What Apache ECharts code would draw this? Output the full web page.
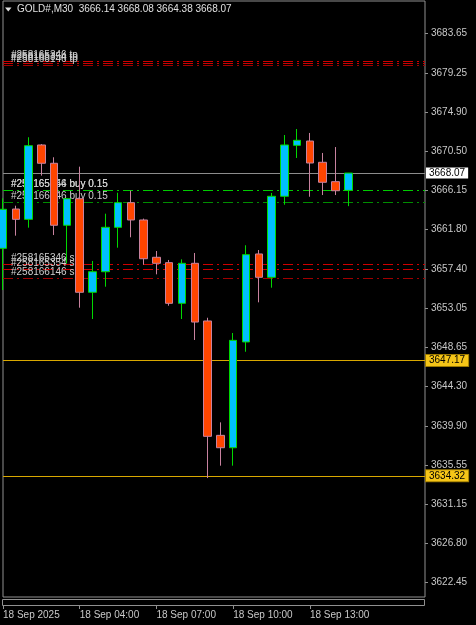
<!DOCTYPE html>
<html><head><meta charset="utf-8">
<script src="https://cdn.jsdelivr.net/npm/echarts@6/dist/echarts.min.js"></script>
<style>html,body{margin:0;padding:0;background:#000}#c{width:476px;height:625px}</style>
</head><body><div id="c"></div>
<script>
const symbolName = 'GOLD#,M30';
const dayPrefix = '18 Sep ';
const firstLabel = '18 Sep 2025';
const times = ['01:00','01:30','02:00','02:30','03:00','03:30','04:00','04:30','05:00','05:30',
  '06:00','06:30','07:00','07:30','08:00','08:30','09:00','09:30','10:00','10:30',
  '11:00','11:30','12:00','12:30','13:00','13:30','14:00','14:30'];
const futureSlots = ['15:00','15:30','16:00','16:30','17:00','17:30'];
const open  = [3659.68,3664.06,3662.91,3671.20,3669.16,3662.25,3665.21,3654.78,3657.07,3662.02,
  3664.77,3662.84,3658.68,3658.08,3653.55,3658.01,3651.58,3638.83,3637.45,3649.24,
  3659.05,3656.45,3665.48,3671.16,3671.64,3669.27,3667.11,3666.14];
const high  = [3665.26,3664.43,3672.06,3671.30,3669.83,3665.30,3668.78,3658.27,3663.54,3665.88,
  3666.10,3662.99,3659.38,3658.38,3658.45,3659.16,3651.94,3640.28,3650.24,3660.02,
  3659.49,3665.85,3672.31,3672.98,3672.54,3670.31,3670.97,3668.08];
const low   = [3655.03,3661.09,3661.98,3667.78,3661.16,3658.01,3653.06,3651.80,3655.40,3659.75,
  3660.91,3657.85,3656.78,3653.28,3651.80,3649.46,3634.07,3635.45,3635.45,3648.15,
  3653.66,3655.29,3664.54,3669.75,3665.43,3665.62,3665.62,3664.38];
const close = [3664.03,3662.91,3671.12,3669.16,3662.25,3665.21,3654.78,3657.07,3662.02,3664.77,
  3662.84,3658.52,3658.01,3653.55,3658.01,3651.46,3638.72,3637.45,3649.42,3658.97,
  3656.45,3665.48,3671.20,3671.72,3669.19,3667.04,3666.10,3668.07];
const priceTicks = [3683.65,3679.25,3674.90,3670.50,3666.15,3661.80,3657.40,3653.05,
  3648.65,3644.30,3639.90,3635.55,3631.15,3626.80,3622.45];
const timeTickLabels = ['04:00','07:00','10:00','13:00'];
const levelPrices = [3647.17, 3634.32];
const orderIds  = ['#258165346','#258165354','#258166146'];
const orderOpen = [3666.15, 3666.18, 3664.81];
const orderSL   = [3657.93, 3657.40, 3656.34];
const orderTP   = [3680.55, 3680.30, 3680.05];
const orderLots = [0.15, 0.15, 0.15];

const FONT = 'Liberation Sans';
const last = close.length - 1;
const candleData = times.map((t, i) => [open[i], close[i], low[i], high[i]]);
const isTick = (i) => i < times.length && (i === 0 || timeTickLabels.indexOf(times[i]) >= 0);

const dash = [10, 4, 2, 4];
function orderLine(price, text, color) {
  return {
    yAxis: price,
    lineStyle: { color: color, type: dash, width: 1 },
    label: { show: true, position: 'insideStartTop', distance: [8, 1], formatter: text,
      color: '#CFCFCF', fontSize: 10, fontFamily: FONT }
  };
}
function priceBox(price, lineColor, bg, border) {
  return {
    yAxis: price,
    lineStyle: { color: lineColor, type: 'solid', width: 1 },
    label: { show: true, position: 'end', distance: 1, formatter: price.toFixed(2),
      backgroundColor: bg, borderColor: border, borderWidth: border ? 1 : 0,
      color: '#000', padding: [1, 3, 0, 3], fontSize: 10, fontFamily: FONT, lineHeight: 10 }
  };
}
const markData = [];
orderIds.forEach((id, k) => {
  markData.push(orderLine(orderTP[k], id + ' tp', k === 2 ? '#A00000' : '#CC0000'));
  markData.push(orderLine(orderSL[k], id + ' sl', k === 2 ? '#A00000' : '#CC0000'));
  markData.push(orderLine(orderOpen[k], id + ' buy ' + orderLots[k].toFixed(2), k === 2 ? '#008C00' : '#00CC00'));
});
levelPrices.forEach(p => markData.push(priceBox(p, '#D9A800', '#F5C518', '#9C7A00')));
markData.push(priceBox(close[last], '#8C8C8C', '#FFFFFF', null));

const chart = echarts.init(document.getElementById('c'));
chart.setOption({
  animation: false,
  backgroundColor: '#000',
  title: {
    text: symbolName + '  ' + [open[last], high[last], low[last], close[last]].map(v => v.toFixed(2)).join(' '),
    left: 17, top: 4, padding: 0,
    textStyle: { color: '#E0E0E0', fontSize: 10, fontWeight: 'normal', fontFamily: FONT, lineHeight: 11 }
  },
  graphic: [
    { type: 'polygon', shape: { points: [[5, 7.5], [11.5, 7.5], [8.25, 11.5]] }, style: { fill: '#E0E0E0' } },
    { type: 'rect', shape: { x: 2.5, y: 599.5, width: 422, height: 6 }, style: { fill: 'none', stroke: '#909090', lineWidth: 1 } }
  ],
  grid: { left: 2, right: 51, top: 1, bottom: 28, show: true, borderColor: '#909090', borderWidth: 1, backgroundColor: '#000' },
  xAxis: {
    type: 'category', data: times.concat(futureSlots), boundaryGap: false, offset: 9,
    axisLine: { show: false },
    axisTick: { show: true, length: 3, interval: (i) => isTick(i), lineStyle: { color: '#909090' } },
    axisLabel: { interval: (i) => isTick(i), align: 'left', margin: 4, color: '#C8C8C8', fontSize: 10, fontFamily: FONT,
      formatter: (v, i) => i === 0 ? firstLabel : dayPrefix + v },
    splitLine: { show: false }
  },
  yAxis: {
    type: 'value', position: 'right', min: 3620.81, max: 3687.25, scale: true,
    axisLine: { show: false },
    axisTick: { show: true, length: 3, customValues: priceTicks, lineStyle: { color: '#909090' } },
    axisLabel: { customValues: priceTicks, formatter: v => v.toFixed(2), margin: 6, color: '#C8C8C8', fontSize: 10, fontFamily: FONT },
    splitLine: { show: false }
  },
  series: [
    {
      type: 'line', data: [], z: 1, silent: true,
      markLine: { silent: true, symbol: ['none', 'none'], animation: false, data: markData }
    },
    {
      type: 'candlestick', z: 5, barWidth: 8, data: candleData, clip: true,
      itemStyle: { color: '#00BFFF', color0: '#FF4500', borderColor: '#00D800', borderColor0: '#C8829F', borderWidth: 1 }
    }
  ]
});
</script></body></html>
